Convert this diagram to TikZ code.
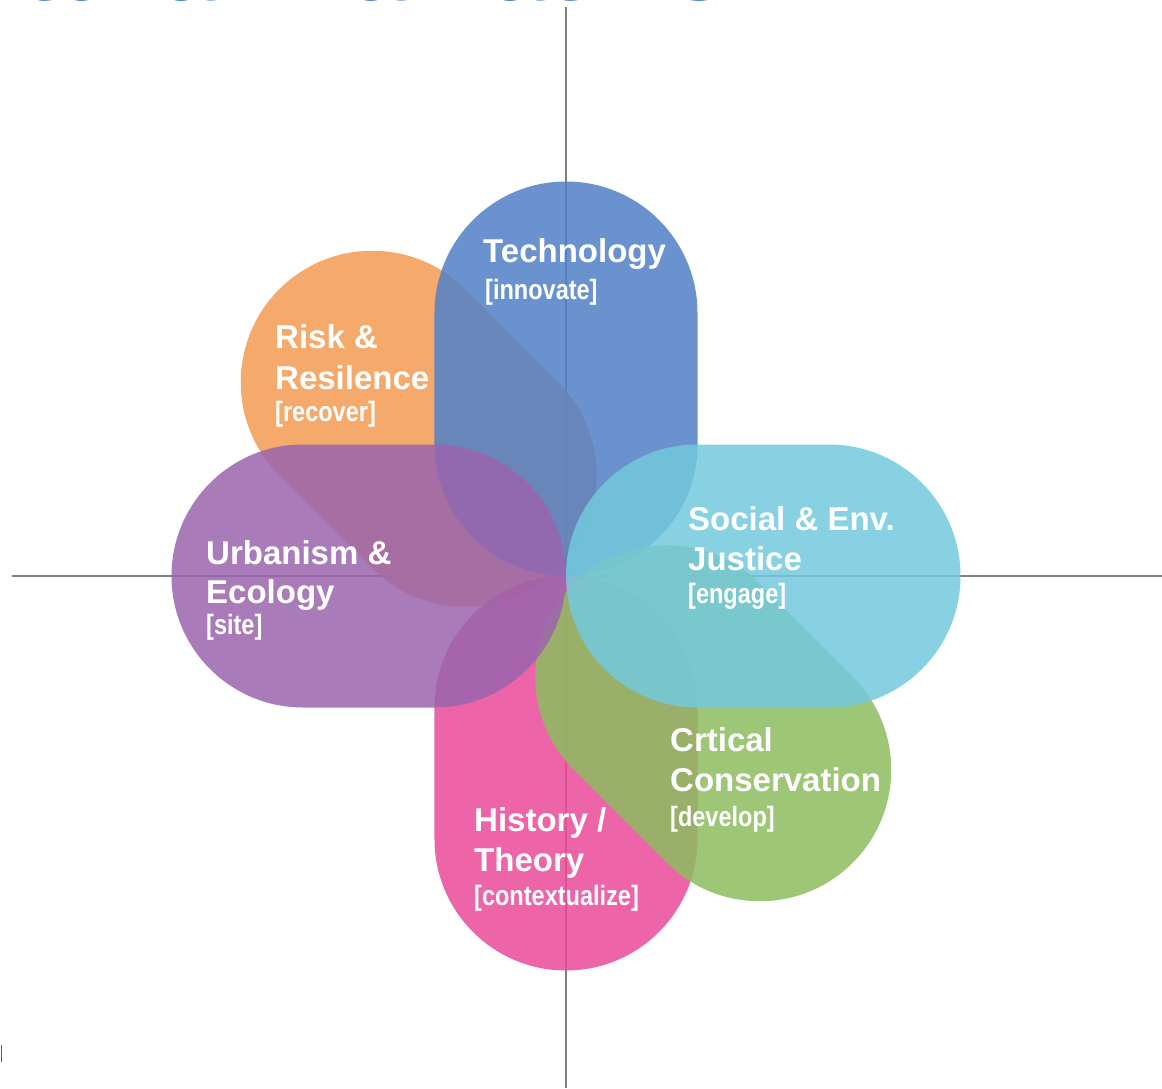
\documentclass[tikz,border=0pt]{standalone}
\usepackage{fontspec}
\setmainfont{Liberation Sans}
\newfontfamily\narrowfont[FakeStretch=0.84]{Liberation Sans}
\definecolor{techblue}{RGB}{80,128,199}
\definecolor{riskorange}{RGB}{244,154,81}
\definecolor{urbpurple}{RGB}{154,100,173}
\definecolor{socialcyan}{RGB}{115,201,221}
\definecolor{consgreen}{RGB}{140,189,95}
\definecolor{histpink}{RGB}{235,75,153}
\definecolor{titleblue}{RGB}{79,134,198}
\definecolor{axisgray}{RGB}{128,128,128}

\tikzset{
  petal/.style={fill opacity=.85},
  axis/.style={axisgray,line width=1.3pt},
  head/.style={text=white,inner sep=0pt,anchor=base west,font=\bfseries\fontsize{33}{40}\selectfont},
  tag/.style={text=white,inner sep=0pt,anchor=base west,font=\narrowfont\bfseries\fontsize{28}{32}\selectfont},
}

\begin{document}
\begin{tikzpicture}[x=1pt,y=1pt]
    \def\R{131.5}
    \path[use as bounding box,clip] (-566,-512) rectangle (596,576);
    \fill[white] (-566,-512) rectangle (596,576);

    % cross through the centre
    \coordinate (north) at (0,569);
    \coordinate (south) at (0,-512);
    \coordinate (west) at (-554,0);
    \coordinate (east) at (596,0);
    \draw[axis] (north) -- (south);
    \draw[axis] (west) -- (east);

    % the six petals, each one touching the centre
    \foreach \a/\d/\col in {135/11/riskorange,90/0/techblue,270/0/histpink,-45/11/consgreen,0/0/socialcyan,180/0/urbpurple} {
        \fill[petal,\col,rotate=\a] ({\d+\R},\R) arc[start angle=90,end angle=270,radius=\R]
            -- ({\d+2*\R},-\R) arc[start angle=-90,end angle=90,radius=\R] -- cycle;}

    % labels
    \node[head] (tech) at (-83,314) {Technology};
    \node[tag] (techtag) at (-81,277) {[innovate]};

    \node[head] (risk1) at (-291,228) {Risk \&};
    \node[head] (risk2) at (-291,187) {Resilence};
    \node[tag] (risktag) at (-291,155) {[recover]};

    \node[head] (urb1) at (-360,12) {Urbanism \&};
    \node[head] (urb2) at (-360,-27) {Ecology};
    \node[tag] (urbtag) at (-360,-58) {[site]};

    \node[head] (soc1) at (122,46) {Social \& Env.};
    \node[head] (soc2) at (122,6) {Justice};
    \node[tag] (soctag) at (122,-27) {[engage]};

    \node[head] (cons1) at (104,-175) {Crtical};
    \node[head] (cons2) at (104,-215) {Conservation};
    \node[tag] (constag) at (104,-250) {[develop]};

    \node[head] (hist1) at (-92,-255) {History /};
    \node[head] (hist2) at (-92,-295) {Theory};
    \node[tag] (histtag) at (-92,-329) {[contextualize]};

    % heading, mostly above the page
    \node[anchor=base east,inner sep=0pt,text=titleblue,font=\bfseries\fontsize{104}{110}\selectfont] (heading) at (162,575) {Cultural Narrative};

    % small stray mark bottom left
    \coordinate (mark1) at (-564,-469);
    \coordinate (mark2) at (-564,-486);
    \draw[axisgray!70!black,line width=1pt] (mark1) -- (mark2);
\end{tikzpicture}
\end{document}
